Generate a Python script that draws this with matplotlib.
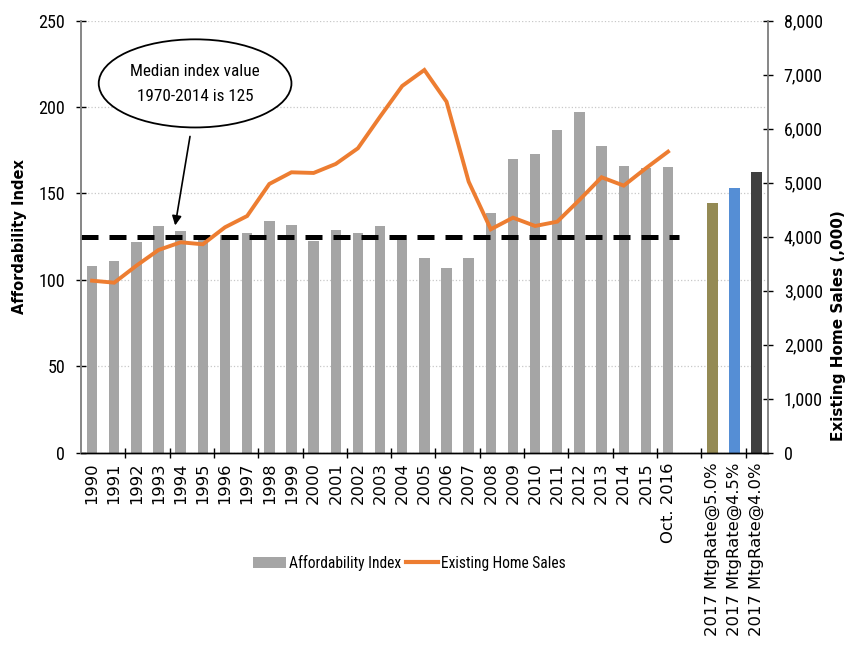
import numpy as np
import matplotlib.pyplot as plt
from matplotlib import font_manager as fm
from matplotlib.patches import Ellipse, Patch
from matplotlib.lines import Line2D
from matplotlib.ticker import FuncFormatter, FixedLocator

# pick the narrowest sans family available for the Calibri-style texts
installed = {f.name for f in fm.fontManager.ttflist}
narrow_name = 'Lato'
for cand in ['Liberation Sans Narrow', 'Roboto Condensed', 'Open Sans Condensed',
             'Noto Sans Display', 'Lato']:
    if cand in installed:
        narrow_name = cand
        break
narrow = [narrow_name, 'DejaVu Sans']

# categories: yearly values, the Oct. 2016 reading, an empty slot, then the 2017 scenarios
years = [str(y) for y in range(1990, 2016)] + ['Oct. 2016']
scenarios = ['2017 MtgRate@5.0%', '2017 MtgRate@4.5%', '2017 MtgRate@4.0%']
labels = years + [''] + scenarios

affordability = [108, 111, 122, 131, 128, 126, 126, 127, 134, 132,
                 122.5, 129, 127, 131, 126, 112.5, 107, 112.5, 138.5, 170,
                 173, 187, 197, 177.5, 166, 164.5, 165.5]
scenario_index = [144.7, 153.2, 162.4]
scenario_colors = ['#948A54', '#558ED5', '#404040']

home_sales = [3185, 3148, 3463, 3754, 3896, 3859, 4174, 4383, 4976, 5192,
              5180, 5347, 5637, 6222, 6791, 7087, 6500, 5019, 4137, 4352,
              4198, 4278, 4680, 5100, 4945, 5267, 5574]

median_index = 125

fig = plt.figure(figsize=(8.5, 6.52), dpi=100)
ax = fig.add_axes([0.0953, 0.3057, 0.8079, 0.6626])
ax2 = ax.twinx()

x_hist = np.arange(len(years))
x_scen = np.arange(len(years) + 1, len(labels))

bar_w = 0.47
ax.bar(x_hist, affordability, width=bar_w, color='#A5A5A5', zorder=2)
ax.bar(x_scen, scenario_index, width=bar_w, color=scenario_colors, zorder=2)

# long-run median as a dashed reference line
ax.plot([-0.5, len(years) - 0.5], [median_index, median_index], color='black',
        lw=3.6, linestyle=(0, (3.4, 2.2)), zorder=3, solid_capstyle='butt',
        dash_capstyle='butt')

ax2.plot(x_hist, home_sales, color='#ED7D31', lw=2.8, zorder=4,
         solid_joinstyle='miter')

ax.set_xlim(-0.5, len(labels) - 0.5)
ax.set_ylim(0, 250)
ax2.set_ylim(0, 8000)
ax.set_yticks(np.arange(0, 251, 50))
ax2.set_yticks(np.arange(0, 8001, 1000))
ax2.yaxis.set_major_formatter(FuncFormatter(lambda v, p: f'{int(v):,}'))

ax.yaxis.grid(True, linestyle=':', color='#C8C8C8', lw=0.9)
ax.set_axisbelow(True)

ax.set_xticks(np.arange(len(labels)))
ax.set_xticklabels(labels, rotation=90, fontsize=11.8, va='top')
ax.xaxis.set_minor_locator(FixedLocator(np.arange(1.5, len(labels), 2)))
ax.tick_params(axis='x', which='major', length=0, pad=7)
ax.tick_params(axis='x', which='minor', length=7, direction='inout', width=1)
ax.tick_params(axis='y', length=7, direction='inout', width=1, pad=8, colors='black')
ax2.tick_params(axis='y', length=7, direction='inout', width=1, pad=8)

for lab in ax.get_yticklabels() + ax2.get_yticklabels():
    lab.set_family(narrow)
    lab.set_fontsize(13)

for a in (ax, ax2):
    a.spines['top'].set_visible(False)
    a.spines['left'].set_color('#868686')
    a.spines['right'].set_color('#868686')
    a.spines['left'].set_linewidth(1.2)
    a.spines['right'].set_linewidth(1.2)
    a.spines['bottom'].set_color('black')
    a.spines['bottom'].set_linewidth(1.0)

ax.set_ylabel('Affordability Index', fontsize=10.5, fontweight='bold')
ax.yaxis.set_label_coords(-0.078, 0.5)
fig.text(0.986, 0.5, 'Existing Home Sales (,000)', rotation=90, fontsize=11,
         fontweight='bold', ha='center', va='center')

# callout bubble with arrow pointing at the median line
ax.add_patch(Ellipse((4.65, 213.7), 8.7, 51, facecolor='white',
                     edgecolor='black', lw=1.3, zorder=5))
ax.text(4.65, 220.5, 'Median index value', ha='center', va='center',
        fontsize=12.3, family=narrow, zorder=6)
ax.text(4.65, 206, '1970-2014 is 125', ha='center', va='center',
        fontsize=12.3, family=narrow, zorder=6)
ax.annotate('', xy=(3.75, 131.5), xytext=(4.42, 183),
            arrowprops=dict(arrowstyle='-|>', color='black', lw=1.2,
                            mutation_scale=14, shrinkA=0, shrinkB=0), zorder=6)

handles = [Patch(facecolor='#A5A5A5', edgecolor='none'),
           Line2D([], [], color='#ED7D31', lw=3)]
fig.legend(handles, ['Affordability Index', 'Existing Home Sales'],
           loc='center', bbox_to_anchor=(0.482, 0.137), ncol=2, frameon=False,
           prop={'family': narrow, 'size': 11.2}, handlelength=2.1,
           handleheight=0.7, handletextpad=0.2, columnspacing=0.3)

fig.savefig('out.png', dpi=100)
